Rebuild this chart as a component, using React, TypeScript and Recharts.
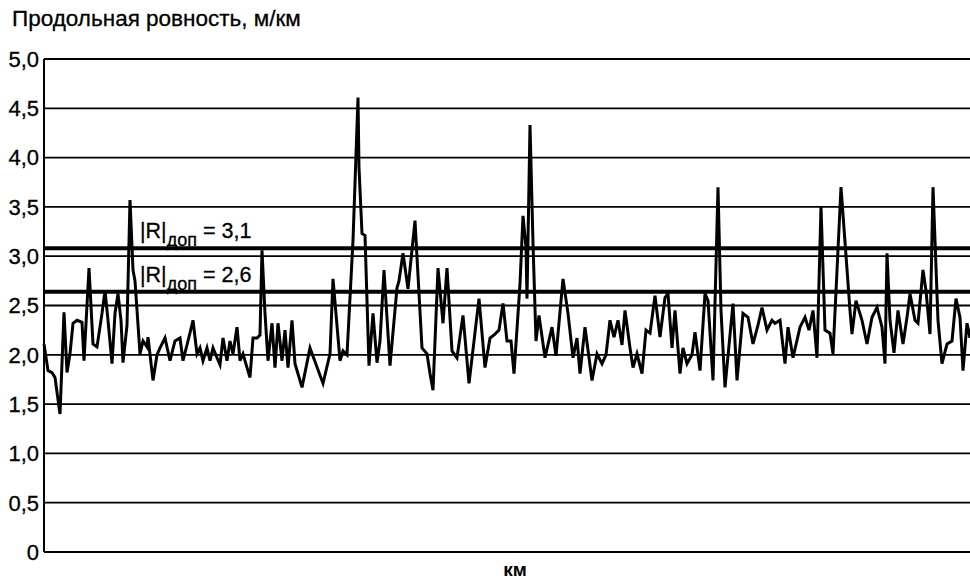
import React from "react";
import { LineChart, Line, XAxis, YAxis, CartesianGrid, ReferenceLine } from "recharts";

// distance along the road, km
const kmPoints = [
  0.0, 0.4, 0.8, 1.1, 1.6, 2.0, 2.3, 2.6, 2.9, 3.3, 3.8, 4.0, 4.5, 4.9, 5.3, 5.8, 6.1, 6.4, 6.8, 7.1,
  7.4, 7.7, 7.9, 8.3, 8.6, 8.9, 9.1, 9.6, 9.9, 10.3, 10.4, 10.9, 11.3, 11.6, 12.1, 12.6, 13.1, 13.6, 13.9, 14.4,
  14.9, 15.3, 15.6, 15.9, 16.3, 16.6, 16.9, 17.3, 17.6, 17.9, 18.3, 18.6, 18.9, 19.3, 19.6, 19.9, 20.3, 20.6, 20.9, 21.3,
  21.6, 21.8, 22.1, 22.4, 22.8, 23.1, 23.4, 23.8, 24.1, 24.4, 24.8, 25.1, 25.8, 26.6, 27.9, 28.6, 28.9, 29.6, 29.9, 30.3,
  30.9, 31.4, 31.5, 31.8, 32.1, 32.5, 32.9, 33.3, 33.6, 34.0, 34.6, 35.3, 35.5, 35.9, 36.4, 37.1, 37.8, 38.3, 38.6, 38.9,
  39.4, 39.9, 40.3, 40.8, 41.3, 41.9, 42.5, 43.5, 44.1, 44.6, 45.1, 45.5, 45.9, 46.3, 46.7, 47.0, 47.6, 47.9, 48.2, 48.3,
  48.6, 48.9, 49.2, 49.5, 50.1, 50.8, 51.2, 51.9, 52.4, 52.9, 53.3, 53.6, 54.1, 54.8, 55.3, 55.8, 56.2, 56.6, 57.0, 57.4,
  57.8, 58.1, 58.6, 58.9, 59.3, 59.8, 60.2, 60.6, 61.1, 61.6, 62.1, 62.4, 62.8, 63.1, 63.6, 63.9, 64.3, 64.8, 65.1, 65.6,
  66.1, 66.4, 66.9, 67.4, 67.7, 68.1, 68.9, 69.3, 69.9, 70.4, 70.9, 71.4, 71.8, 72.3, 72.8, 73.1, 73.6, 74.1, 74.4, 74.9,
  75.6, 76.1, 76.5, 76.9, 77.3, 77.7, 78.1, 78.6, 78.9, 79.7, 80.6, 80.8, 81.2, 81.8, 82.3, 82.8, 83.3, 83.8, 84.1, 84.3,
  84.6, 85.0, 85.4, 85.9, 86.3, 86.6, 87.1, 87.4, 87.9, 88.2, 88.6, 88.9, 89.4, 89.8, 90.3, 90.8, 91.2, 91.6, 91.9, 92.3,
  92.6,
];

// longitudinal roughness, m/km
const roughness = [
  2.11, 1.84, 1.82, 1.77, 1.40, 2.43, 1.82, 2.01, 2.32, 2.35, 2.33, 1.94, 2.88, 2.11, 2.08, 2.42, 2.65, 2.35, 1.91, 2.42,
  2.62, 2.35, 1.92, 2.30, 3.57, 2.86, 2.75, 2.01, 2.14, 2.08, 2.18, 1.74, 2.00, 2.07, 2.17, 1.94, 2.14, 2.17, 1.94, 2.14,
  2.35, 2.01, 2.07, 1.94, 2.07, 1.94, 2.07, 1.97, 1.90, 2.17, 1.94, 2.14, 2.01, 2.28, 1.94, 2.01, 1.87, 1.77, 2.17, 2.17,
  2.20, 3.06, 2.42, 1.94, 2.32, 1.87, 2.32, 1.94, 2.25, 1.87, 2.35, 1.91, 1.67, 2.07, 1.71, 2.01, 2.77, 1.94, 2.04, 2.00,
  3.16, 4.61, 3.90, 3.23, 3.21, 1.89, 2.42, 1.92, 2.14, 2.86, 1.89, 2.68, 2.75, 3.03, 2.67, 3.36, 2.07, 2.01, 1.81, 1.64,
  2.88, 2.32, 2.88, 2.04, 1.97, 2.40, 1.71, 2.57, 1.87, 2.17, 2.21, 2.25, 2.52, 2.14, 2.14, 1.81, 2.72, 3.41, 3.09, 2.57,
  4.33, 3.13, 2.14, 2.40, 1.97, 2.28, 1.99, 2.77, 2.42, 1.97, 2.17, 1.81, 2.28, 1.74, 2.01, 1.91, 2.00, 2.35, 2.18, 2.35,
  2.10, 2.45, 2.07, 1.87, 2.01, 1.81, 2.25, 2.22, 2.60, 2.18, 2.58, 2.62, 2.07, 2.45, 1.81, 2.07, 1.91, 2.00, 2.23, 1.84,
  2.62, 2.55, 1.74, 3.70, 2.45, 1.67, 2.52, 1.74, 2.42, 2.38, 2.11, 2.30, 2.48, 2.25, 2.35, 2.32, 2.35, 1.91, 2.28, 1.97,
  2.28, 2.38, 2.25, 2.45, 1.97, 3.50, 2.25, 2.22, 2.01, 3.70, 2.45, 2.21, 2.55, 2.35, 2.11, 2.38, 2.48, 2.28, 1.91, 3.03,
  2.35, 2.02, 2.45, 2.11, 2.38, 2.62, 2.35, 2.32, 2.86, 2.65, 2.21, 3.70, 2.35, 1.91, 2.11, 2.14, 2.57, 2.38, 1.84, 2.32,
  2.17,
];

const yTicks = [0, 0.5, 1, 1.5, 2, 2.5, 3, 3.5, 4, 4.5, 5];
const yTickLabels = ["0", "0,5", "1,0", "1,5", "2,0", "2,5", "3,0", "3,5", "4,0", "4,5", "5,0"];

const limitLines = [3.08, 2.64];
const limitLabels = ["3,1", "2,6"];

const data = kmPoints.map((km, i) => ({ km, r: roughness[i] }));

const FONT = "'Liberation Sans', Arial, sans-serif";

const makeLabel = (value: string) => (props: any) => {
  const vb = props.viewBox || {};
  const x = (vb.x ?? 0) + 96;
  const y = (vb.y ?? 0) - 10;
  return (
    <text x={x} y={y} fill="#000" fontFamily={FONT} fontSize={21.5} stroke="#000" strokeWidth={0.3}>
      <tspan>|R|</tspan>
      <tspan dy={8} fontSize={18}>доп</tspan>
      <tspan dy={-8}>{" = " + value}</tspan>
    </text>
  );
};

export default function App() {
  return (
    <div style={{ position: "absolute", left: 0, top: 0, width: 970, height: 579, background: "#fff", overflow: "hidden" }}>
      <div
        style={{
          position: "absolute",
          left: 12,
          top: 6,
          fontFamily: FONT,
          fontSize: 22.5,
          lineHeight: "26px",
          color: "#000",
          whiteSpace: "nowrap",
          WebkitTextStroke: "0.3px #000",
        }}
      >
        Продольная ровность, м/км
      </div>
      <div
        style={{
          position: "absolute",
          left: 0,
          width: 1030,
          top: 563,
          height: 14,
          lineHeight: "14px",
          textAlign: "center",
          fontFamily: FONT,
          fontSize: 19,
          fontWeight: "bold",
          color: "#000",
        }}
      >
        км
      </div>
      <LineChart
        width={970}
        height={579}
        data={data}
        margin={{ top: 59, right: 0, bottom: 27, left: 0 }}
        style={{ position: "absolute", left: 0, top: 0 }}
      >
        <CartesianGrid vertical={false} stroke="#000" strokeWidth={1.8} />
        <XAxis dataKey="km" type="number" domain={[0, 92.6]} hide />
        <YAxis
          type="number"
          domain={[0, 5]}
          ticks={yTicks}
          width={44}
          interval={0}
          tickLine={false}
          tickSize={0}
          tickMargin={5}
          axisLine={{ stroke: "#000", strokeWidth: 2 }}
          tickFormatter={(v: number) => yTickLabels[yTicks.indexOf(v)] ?? String(v)}
          tick={{ fill: "#000", fontFamily: FONT, fontSize: 22, stroke: "#000", strokeWidth: 0.3 }}
        />
        {limitLines.map((v, i) => (
          <ReferenceLine
            key={i}
            y={v}
            stroke="#000"
            strokeWidth={4}
            label={makeLabel(limitLabels[i])}
            ifOverflow="extendDomain"
          />
        ))}
        <Line
          type="linear"
          dataKey="r"
          stroke="#000"
          strokeWidth={3}
          dot={false}
          isAnimationActive={false}
          strokeLinejoin="miter"
        />
      </LineChart>
    </div>
  );
}
